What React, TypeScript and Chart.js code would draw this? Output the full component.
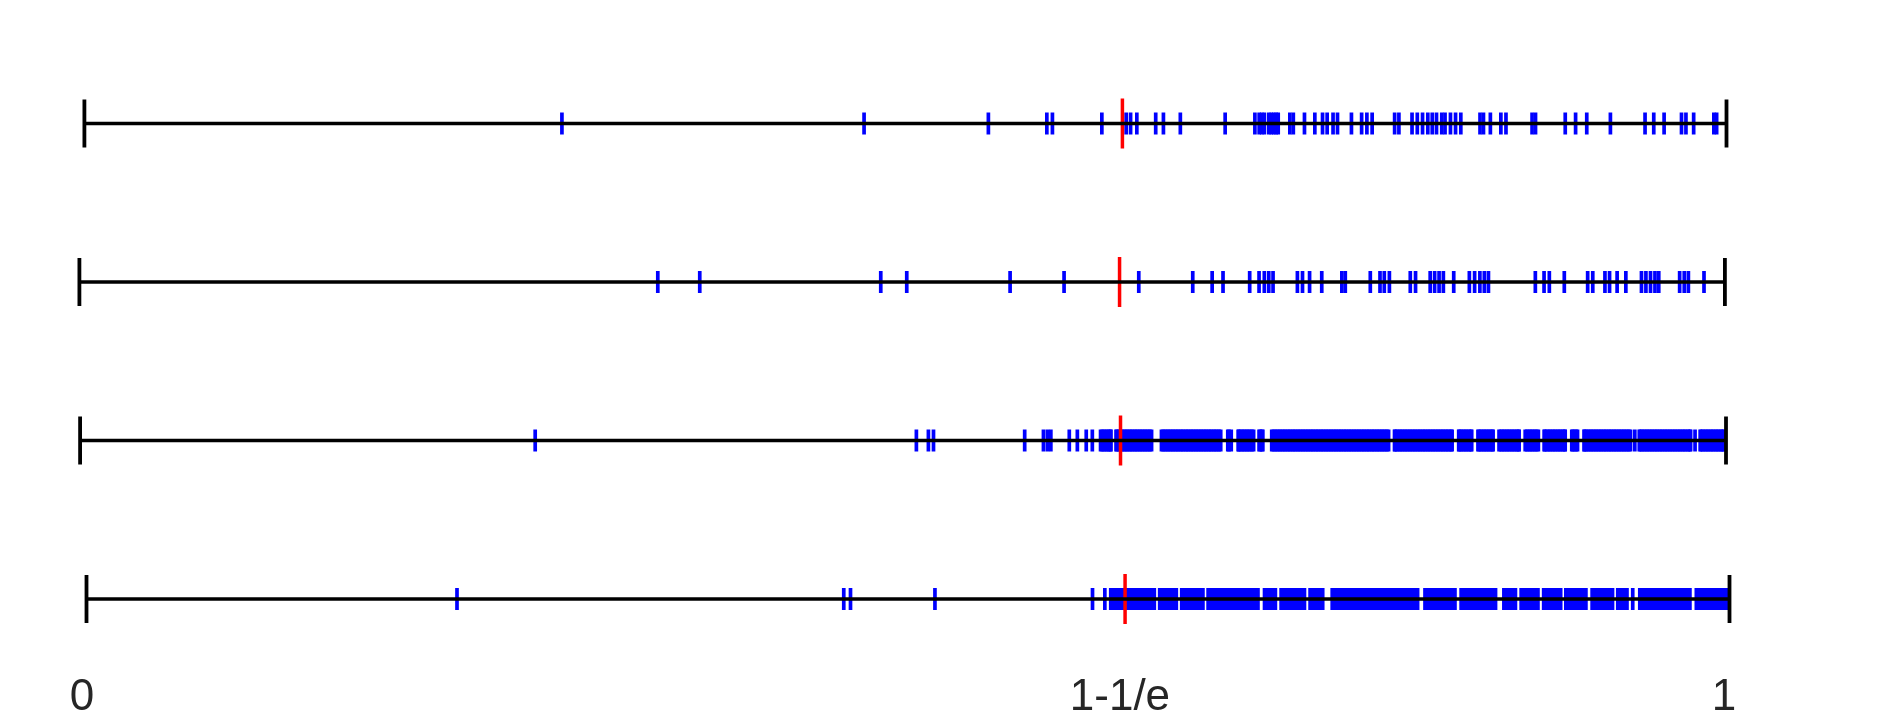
import { useEffect, useRef } from 'react';
import { Chart, registerables } from 'chart.js';

Chart.register(...registerables);

// ---------- data ----------
const THRESHOLD = 1 - 1 / Math.E;
const TICK_VALUES = [0, 1 - 1 / Math.E, 1];
const TICK_LABELS = ['0', '1-1/e', '1'];

const ROW1 = [
  0.2908, 0.4748, 0.5505, 0.5861, 0.5895, 0.6196, 0.6344, 0.6371, 0.6409, 0.6524, 0.6571, 0.6674,
  0.6947, 0.7128, 0.7154, 0.717, 0.7186, 0.7213, 0.7228, 0.7243, 0.7257, 0.727, 0.7341, 0.7362,
  0.743, 0.7493, 0.754, 0.7568, 0.7604, 0.7631, 0.7716, 0.7778, 0.781, 0.7842, 0.7979, 0.8005,
  0.8085, 0.8117, 0.8149, 0.8181, 0.8208, 0.8234, 0.8266, 0.8286, 0.8319, 0.835, 0.8382, 0.8499,
  0.852, 0.8562, 0.8626, 0.8657, 0.8816, 0.8837, 0.9018, 0.9081, 0.9149, 0.9293, 0.9504, 0.9557,
  0.962, 0.9726, 0.9753, 0.98, 0.9923, 0.994,
];

const ROW2 = [
  0.3515, 0.377, 0.487, 0.5028, 0.5656, 0.5984, 0.6438, 0.6766, 0.6884, 0.695, 0.7112, 0.7169,
  0.7201, 0.7228, 0.7254, 0.7402, 0.7433, 0.7476, 0.755, 0.7672, 0.7693, 0.7845, 0.7904, 0.793,
  0.7961, 0.8088, 0.812, 0.8209, 0.8236, 0.8263, 0.8289, 0.8352, 0.8447, 0.8479, 0.8511, 0.8538,
  0.8563, 0.8848, 0.8901, 0.8933, 0.9024, 0.9166, 0.9197, 0.9271, 0.9299, 0.9345, 0.9398, 0.9493,
  0.952, 0.9548, 0.9575, 0.9598, 0.9725, 0.9753, 0.9778, 0.9873,
];

const ROW3 = [
  0.2765, 0.5081, 0.5154, 0.5185, 0.5739, 0.5853, 0.5877, 0.5898, 0.601, 0.6059, 0.6113, 0.615,
  0.62, 0.621, 0.622, 0.623, 0.624, 0.625, 0.626, 0.6263,
  0.6294, 0.63, 0.631, 0.632, 0.633, 0.634, 0.635, 0.636, 0.637, 0.638, 0.639, 0.64, 0.641, 0.642,
  0.643, 0.644, 0.645, 0.646, 0.647, 0.648, 0.649, 0.65, 0.651,
  0.657, 0.658, 0.659, 0.66, 0.661, 0.662, 0.663, 0.664, 0.665, 0.666, 0.667, 0.668, 0.669, 0.67,
  0.671, 0.672, 0.673, 0.674, 0.675, 0.676, 0.677, 0.678, 0.679, 0.68, 0.681, 0.682, 0.683, 0.684,
  0.685, 0.686, 0.687, 0.688, 0.689, 0.69, 0.691, 0.692, 0.693,
  0.6973, 0.698, 0.6994,
  0.7036, 0.704, 0.705, 0.706, 0.707, 0.708, 0.709, 0.71, 0.711, 0.712, 0.713,
  0.7163, 0.717, 0.718, 0.7186,
  0.724, 0.725, 0.726, 0.727, 0.728, 0.729, 0.73, 0.731, 0.732, 0.733, 0.734, 0.735, 0.736, 0.737,
  0.738, 0.739, 0.74, 0.741, 0.742, 0.743, 0.744, 0.745, 0.746, 0.747, 0.748, 0.749, 0.75, 0.751,
  0.752, 0.753, 0.754, 0.755, 0.756, 0.757, 0.758, 0.759, 0.76, 0.761, 0.762, 0.763, 0.764, 0.765,
  0.766, 0.767, 0.768, 0.769, 0.77, 0.771, 0.772, 0.773, 0.774, 0.775, 0.776, 0.777, 0.778, 0.779,
  0.78, 0.781, 0.782, 0.783, 0.784, 0.785, 0.786, 0.787, 0.788, 0.789, 0.79, 0.791, 0.792, 0.793,
  0.794, 0.795,
  0.7986, 0.799, 0.8, 0.801, 0.802, 0.803, 0.804, 0.805, 0.806, 0.807, 0.808, 0.809, 0.81, 0.811,
  0.812, 0.813, 0.814, 0.815, 0.816, 0.817, 0.818, 0.819, 0.82, 0.821, 0.822, 0.823, 0.824, 0.825,
  0.826, 0.827, 0.828, 0.829, 0.83, 0.831, 0.832, 0.833, 0.8336,
  0.8376, 0.838, 0.839, 0.84, 0.841, 0.842, 0.843, 0.844, 0.845, 0.8455,
  0.8493, 0.85, 0.851, 0.852, 0.853, 0.854, 0.855, 0.856, 0.857, 0.858, 0.8585,
  0.8621, 0.863, 0.864, 0.865, 0.866, 0.867, 0.868, 0.869, 0.87, 0.871, 0.872, 0.873, 0.874, 0.8743,
  0.878, 0.879, 0.88, 0.881, 0.882, 0.883, 0.884, 0.885, 0.886,
  0.8895, 0.89, 0.891, 0.892, 0.893, 0.894, 0.895, 0.896, 0.897, 0.898, 0.899, 0.9, 0.901, 0.902,
  0.9023,
  0.9063, 0.907, 0.908, 0.909, 0.9098,
  0.9138, 0.914, 0.915, 0.916, 0.917, 0.918, 0.919, 0.92, 0.921, 0.922, 0.923, 0.924, 0.925, 0.926,
  0.927, 0.928, 0.929, 0.93, 0.931, 0.932, 0.933, 0.934, 0.935, 0.936, 0.937, 0.938, 0.939, 0.94,
  0.941, 0.942,
  0.9446,
  0.9473, 0.948, 0.949, 0.95, 0.951, 0.952, 0.953, 0.954, 0.955, 0.956, 0.957, 0.958, 0.959, 0.96,
  0.961, 0.962, 0.963, 0.964, 0.965, 0.966, 0.967, 0.968, 0.969, 0.97, 0.971, 0.972, 0.973, 0.974,
  0.975, 0.976, 0.977, 0.978, 0.9785,
  0.9812,
  0.9843, 0.985, 0.986, 0.987, 0.988, 0.989, 0.99, 0.991, 0.992, 0.993, 0.994, 0.995, 0.996, 0.997,
  0.998, 0.9985,
];

const ROW4 = [
  0.2255, 0.4609, 0.465, 0.5164, 0.6123, 0.6198,
  0.6234, 0.624, 0.625, 0.626, 0.627, 0.628, 0.629, 0.63, 0.631, 0.632, 0.633, 0.634, 0.635, 0.636,
  0.637, 0.638, 0.639, 0.64, 0.641, 0.642, 0.643, 0.644, 0.645, 0.646, 0.647, 0.648, 0.649, 0.6499,
  0.6532, 0.654, 0.655, 0.656, 0.657, 0.658, 0.659, 0.66, 0.661, 0.662, 0.663, 0.6633,
  0.6666, 0.667, 0.668, 0.669, 0.67, 0.671, 0.672, 0.673, 0.674, 0.675, 0.676, 0.677, 0.678, 0.679,
  0.6795,
  0.6827, 0.683, 0.684, 0.685, 0.686, 0.687, 0.688, 0.689, 0.69, 0.691, 0.692, 0.693, 0.694, 0.695,
  0.696, 0.697, 0.698, 0.699, 0.7, 0.701, 0.702, 0.703, 0.704, 0.705, 0.706, 0.707, 0.708, 0.709,
  0.71, 0.711, 0.712, 0.713,
  0.717, 0.718, 0.719, 0.72, 0.721, 0.722, 0.723, 0.7236,
  0.7271, 0.728, 0.729, 0.73, 0.731, 0.732, 0.733, 0.734, 0.735, 0.736, 0.737, 0.738, 0.739, 0.74,
  0.741, 0.7413,
  0.7448, 0.745, 0.746, 0.747, 0.748, 0.749, 0.75, 0.751, 0.752, 0.7524,
  0.7582, 0.759, 0.76, 0.761, 0.762, 0.763, 0.764, 0.765, 0.766, 0.767, 0.768, 0.769, 0.77, 0.771,
  0.772, 0.773, 0.774, 0.775, 0.776, 0.777, 0.778, 0.779, 0.78, 0.781, 0.782, 0.783, 0.784, 0.785,
  0.786, 0.787, 0.788, 0.789, 0.79, 0.791, 0.792, 0.793, 0.794, 0.795, 0.796, 0.797, 0.798, 0.799,
  0.8, 0.801, 0.802, 0.803, 0.804, 0.805, 0.806, 0.807, 0.808, 0.809, 0.81, 0.8101,
  0.8147, 0.815, 0.816, 0.817, 0.818, 0.819, 0.82, 0.821, 0.822, 0.823, 0.824, 0.825, 0.826, 0.827,
  0.828, 0.829, 0.83, 0.831, 0.832, 0.8329,
  0.8367, 0.837, 0.838, 0.839, 0.84, 0.841, 0.842, 0.843, 0.844, 0.845, 0.846, 0.847, 0.848, 0.849,
  0.85, 0.851, 0.852, 0.853, 0.854, 0.855, 0.856, 0.857, 0.8576,
  0.8627, 0.863, 0.864, 0.865, 0.866, 0.867, 0.868, 0.869, 0.8697,
  0.8732, 0.874, 0.875, 0.876, 0.877, 0.878, 0.879, 0.88, 0.881, 0.882, 0.883, 0.8834,
  0.8869, 0.887, 0.888, 0.889, 0.89, 0.891, 0.892, 0.893, 0.894, 0.895, 0.896, 0.897, 0.8972,
  0.9004, 0.901, 0.902, 0.903, 0.904, 0.905, 0.906, 0.907, 0.908, 0.909, 0.91, 0.911, 0.912, 0.9126,
  0.9164, 0.917, 0.918, 0.919, 0.92, 0.921, 0.922, 0.923, 0.924, 0.925, 0.926, 0.927, 0.928, 0.9288,
  0.932, 0.933, 0.934, 0.935, 0.936, 0.937, 0.9376,
  0.9411,
  0.9454, 0.946, 0.947, 0.948, 0.949, 0.95, 0.951, 0.952, 0.953, 0.954, 0.955, 0.956, 0.957, 0.958,
  0.959, 0.96, 0.961, 0.962, 0.963, 0.964, 0.965, 0.966, 0.967, 0.968, 0.969, 0.97, 0.971, 0.972,
  0.973, 0.974, 0.975, 0.9759,
  0.9799, 0.98, 0.981, 0.982, 0.983, 0.984, 0.985, 0.986, 0.987, 0.988, 0.989, 0.99, 0.991, 0.992,
  0.993, 0.994, 0.995, 0.996, 0.997, 0.998, 0.9989,
];

const ROWS = [ROW1, ROW2, ROW3, ROW4];

// ---------- layout (pixels) ----------
const CANVAS_W = 1881;
const CANVAS_H = 715;
const ROW_LEFT_PX = [84.4, 79.4, 80.1, 86.5];
const ROW_RIGHT_PX = [1726.5, 1724.9, 1726, 1729.5];
const ROW_Y0_PX = 123.5;
const ROW_STEP_PX = 158.5;
const LABEL_AXIS_H = 47;
const LABEL_LEFT_PX = 82;
const LABEL_RIGHT_PX = 1724;

export default function App() {
  const ref = useRef<HTMLCanvasElement>(null);

  useEffect(() => {
    if (!ref.current) return;
    const scales: any = {};
    const datasets: any[] = [];
    const plotH = CANVAS_H - LABEL_AXIS_H;
    const yMin = -ROW_Y0_PX / ROW_STEP_PX;
    const yMax = (plotH - ROW_Y0_PX) / ROW_STEP_PX;

    ROWS.forEach((vals, i) => {
      const L = ROW_LEFT_PX[i];
      const R = ROW_RIGHT_PX[i];
      const span = R - L;
      const id = 'x' + i;
      scales[id] = { type: 'linear', display: false, min: -L / span, max: (CANVAS_W - L) / span };
      // main axis line
      datasets.push({
        type: 'line', xAxisID: id, yAxisID: 'y',
        data: [{ x: 0, y: i }, { x: 1, y: i }],
        borderColor: '#000000', borderWidth: 3.6, pointRadius: 0, fill: false, order: 0,
      });
      // end ticks
      datasets.push({
        type: 'scatter', xAxisID: id, yAxisID: 'y',
        data: [{ x: 0, y: i }, { x: 1, y: i }],
        pointStyle: 'line', pointRotation: 90, pointRadius: 24,
        pointBorderColor: '#000000', pointBackgroundColor: '#000000', pointBorderWidth: 3.8, order: 1,
      });
      // threshold marker
      datasets.push({
        type: 'scatter', xAxisID: id, yAxisID: 'y',
        data: [{ x: THRESHOLD, y: i }],
        pointStyle: 'line', pointRotation: 90, pointRadius: 25,
        pointBorderColor: '#ff0000', pointBackgroundColor: '#ff0000', pointBorderWidth: 3.5, order: 2,
      });
      // sample ticks
      datasets.push({
        type: 'scatter', xAxisID: id, yAxisID: 'y',
        data: vals.map((v) => ({ x: v, y: i })),
        pointStyle: 'line', pointRotation: 90, pointRadius: 11,
        pointBorderColor: '#0000ff', pointBackgroundColor: '#0000ff', pointBorderWidth: 3.7, order: 3,
      });
    });

    const lspan = LABEL_RIGHT_PX - LABEL_LEFT_PX;
    scales.xl = {
      type: 'linear',
      position: 'bottom',
      min: -LABEL_LEFT_PX / lspan,
      max: (CANVAS_W - LABEL_LEFT_PX) / lspan,
      grid: { display: false, drawTicks: false },
      border: { display: false },
      afterBuildTicks: (s: any) => {
        s.ticks = TICK_VALUES.map((v) => ({ value: v }));
      },
      afterFit: (s: any) => {
        s.height = LABEL_AXIS_H;
        s.paddingLeft = 0;
        s.paddingRight = 0;
      },
      ticks: {
        autoSkip: false,
        maxRotation: 0,
        minRotation: 0,
        padding: 3,
        color: '#262626',
        font: { family: '"Liberation Sans", Arial, Helvetica, sans-serif', size: 44 },
        callback: (_v: any, idx: number) => TICK_LABELS[idx],
      },
    };
    scales.y = { type: 'linear', display: false, reverse: true, min: yMin, max: yMax };

    const chart = new Chart(ref.current, {
      type: 'scatter',
      data: { datasets },
      options: {
        responsive: false,
        maintainAspectRatio: false,
        animation: false,
        events: [],
        layout: { padding: 0, autoPadding: false },
        plugins: { legend: { display: false }, tooltip: { enabled: false } },
        scales,
      } as any,
    });
    return () => chart.destroy();
  }, []);

  return (
    <div style={{ position: 'fixed', left: 0, top: 0, width: CANVAS_W, height: CANVAS_H, background: '#ffffff' }}>
      <canvas ref={ref} width={CANVAS_W} height={CANVAS_H} style={{ display: 'block' }} />
    </div>
  );
}
